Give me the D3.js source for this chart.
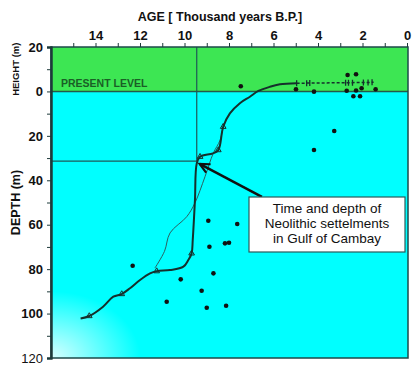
<!DOCTYPE html>
<html>
<head>
<meta charset="utf-8">
<script src="https://cdn.jsdelivr.net/npm/d3@7"></script>
<style>
  body { margin: 0; background: #fff; }
  svg text { font-family: "Liberation Sans", Arial, sans-serif; }
</style>
</head>
<body>
<svg class="chart" width="416" height="365"></svg>
<script>
// age in thousand years B.P., depth in m (negative = height above present level)
const ageTicks = [0, 2, 4, 6, 8, 10, 12, 14];
const ageMinorTicks = [1, 3, 5, 7, 9, 11, 13, 15];
const depthTicks = [-20, 0, 20, 40, 60, 80, 100, 120];
const depthMinorTicks = [-10, 10, 30, 50, 70, 90, 110];

// thick sea level curve
const mainAge = [14.67, 14.28, 13.66, 13.2, 12.82, 12.45, 12.0, 11.55, 11.25, 10.65, 10.05, 9.83, 9.68, 9.63, 9.53, 9.45, 9.30, 8.72, 8.48, 8.26, 7.96, 7.51, 7.06, 6.68, 6.16, 5.71, 4.96];
const mainDepth = [102.2, 101.1, 96.9, 92.4, 91.2, 88.6, 84.9, 81.9, 80.9, 80.4, 78.9, 75.9, 72.9, 66.9, 48.9, 32.4, 29.4, 27.9, 26.4, 15.9, 9.9, 5.3, 2.4, -0.2, -2.1, -3.2, -3.7];

// thin curve
const thinAge = [11.33, 10.9, 10.65, 9.9, 9.53, 9.08, 8.71, 8.4, 8.26];
const thinDepth = [79.5, 72.0, 63.7, 56.4, 50.2, 38.4, 27.9, 21.9, 15.9];

// dashed part near present level
const dashAge = [4.96, 4.0, 3.0, 2.0, 1.5];
const dashDepth = [-3.7, -3.8, -3.9, -4.0, -4.1];

// curve markers
const triAge = [14.28, 12.82, 11.25, 9.68, 9.30, 8.48, 8.26];
const triDepth = [101.1, 91.2, 80.9, 72.9, 29.4, 26.4, 15.9];
const crossAge = [4.96, 4.51, 4.37, 2.76, 2.63, 2.45, 1.96, 1.75, 1.57];
const crossDepth = [-3.7, -3.7, -3.8, -3.9, -3.9, -3.9, -4.0, -4.0, -4.1];

// scattered samples
const dotAge = [7.47, 4.99, 4.18, 2.67, 2.29, 1.41, 2.71, 2.41, 2.11, 2.29, 2.04, 3.27, 4.18, 8.93, 7.63, 8.88, 8.18, 8.0, 8.70, 9.23, 9.0, 8.13, 12.33, 10.17, 10.8];
const dotDepth = [-2.3, -1.0, 0.1, -7.4, -7.7, -1.0, -0.3, 2.2, 2.2, -0.4, -1.4, 17.8, 26.4, 58.2, 59.7, 69.9, 68.4, 68.1, 81.9, 89.7, 97.4, 96.5, 78.5, 84.6, 94.7];

// neolithic settlement marker and arrow
const settleAge = 9.45, settleDepth = 31.4;
const arrowFrom = [6.52, 47.5], arrowTo = [9.32, 32.6];
const boxLines = ["Time and depth of", "Neolithic settelments", "in  Gulf of Cambay"];

const font = "'Liberation Sans', Arial, sans-serif";
const svg = d3.select(".chart");
const pLeft = 51, pRight = 408, pTop = 47, pBottom = 358;

const x = d3.scaleLinear().domain([16, 0]).range([pLeft, pRight - 1]);
const y = d3.scaleLinear().domain([-20, 120]).range([pTop, pBottom]);

const defs = svg.append("defs");
const grad = defs.append("radialGradient").attr("id", "glow")
  .attr("cx", 0).attr("cy", 1).attr("r", 0.25);
grad.append("stop").attr("offset", "0%").attr("stop-color", "#d8ffff");
grad.append("stop").attr("offset", "100%").attr("stop-color", "#00ffff");

// water and land backgrounds
svg.append("rect").attr("x", pLeft).attr("y", y(0)).attr("width", pRight - pLeft).attr("height", y(120) - y(0))
  .attr("fill", "url(#glow)");
svg.append("rect").attr("x", pLeft).attr("y", y(-20)).attr("width", pRight - pLeft).attr("height", y(0) - y(-20))
  .attr("fill", "#3de653");

svg.append("text").attr("x", 61).attr("y", y(0) - 4).attr("fill", "#1a5e26").attr("font-family", font)
  .attr("font-size", 10.5).attr("font-weight", "bold").text("PRESENT LEVEL");

// present level and crosshair lines
svg.append("line").attr("x1", pLeft).attr("x2", pRight).attr("y1", y(0)).attr("y2", y(0))
  .attr("stroke", "#245a4a").attr("stroke-width", 1.5);
svg.append("line").attr("x1", x(settleAge)).attr("x2", x(settleAge)).attr("y1", y(-20)).attr("y2", y(settleDepth))
  .attr("stroke", "#1f5858").attr("stroke-width", 1.2);
svg.append("line").attr("x1", pLeft).attr("x2", x(settleAge)).attr("y1", y(settleDepth)).attr("y2", y(settleDepth))
  .attr("stroke", "#1f5858").attr("stroke-width", 1.2);

const line = d3.line().x((d) => x(d[0])).y((d) => y(d[1])).curve(d3.curveCatmullRom);

svg.append("path").datum(d3.zip(thinAge, thinDepth)).attr("d", line)
  .attr("fill", "none").attr("stroke", "#2a6060").attr("stroke-width", 1);
svg.append("path").datum(d3.zip(mainAge, mainDepth)).attr("d", line)
  .attr("fill", "none").attr("stroke", "#15302c").attr("stroke-width", 2);
svg.append("path").datum(d3.zip(dashAge, dashDepth)).attr("d", d3.line().x((d) => x(d[0])).y((d) => y(d[1])))
  .attr("fill", "none").attr("stroke", "#15302c").attr("stroke-width", 1.5).attr("stroke-dasharray", "3,2");

const tri = d3.symbol().type(d3.symbolTriangle).size(14);
svg.selectAll(".tri").data(d3.zip(triAge, triDepth)).enter().append("path")
  .attr("transform", (d) => `translate(${x(d[0])},${y(d[1])})`)
  .attr("d", tri).attr("fill", "none").attr("stroke", "#15302c").attr("stroke-width", 1);
svg.selectAll(".cross").data(d3.zip(crossAge, crossDepth)).enter().append("line")
  .attr("x1", (d) => x(d[0])).attr("x2", (d) => x(d[0]))
  .attr("y1", (d) => y(d[1]) - 3).attr("y2", (d) => y(d[1]) + 3)
  .attr("stroke", "#15302c").attr("stroke-width", 1.3);

svg.selectAll(".dot").data(d3.zip(dotAge, dotDepth)).enter().append("circle")
  .attr("cx", (d) => x(d[0])).attr("cy", (d) => y(d[1])).attr("r", 2.3).attr("fill", "#111");

// frame
svg.append("rect").attr("x", pLeft).attr("y", pTop).attr("width", pRight - pLeft).attr("height", pBottom - pTop)
  .attr("fill", "none").attr("stroke", "#1d4a4a").attr("stroke-width", 1.5);

// axes
const topAxis = svg.append("g").attr("transform", `translate(0,${pTop})`);
topAxis.call(d3.axisTop(x).tickValues(ageMinorTicks).tickSize(4).tickFormat(""));
topAxis.append("g").call(d3.axisTop(x).tickValues(ageTicks).tickSize(4).tickPadding(3).tickFormat(d3.format("d")));
topAxis.selectAll(".domain").remove();
topAxis.selectAll("line").attr("stroke", "#1d3a3a");
topAxis.selectAll("text").attr("font-size", 13).attr("font-weight", "bold").attr("fill", "#111")
  .attr("font-family", font);

const leftAxis = svg.append("g").attr("transform", `translate(${pLeft},0)`);
leftAxis.call(d3.axisLeft(y).tickValues(depthMinorTicks).tickSize(4).tickFormat(""));
leftAxis.append("g").call(d3.axisLeft(y).tickValues(depthTicks).tickSize(4).tickPadding(4).tickFormat((d) => Math.abs(d)));
leftAxis.selectAll(".domain").attr("stroke", "#1d3a3a").attr("stroke-width", 2);
leftAxis.selectAll("line").attr("stroke", "#1d3a3a");
leftAxis.selectAll("text").attr("font-size", 13).attr("font-weight", (d) => d === 120 ? "normal" : "bold")
  .attr("fill", "#111").attr("font-family", font);

// titles
svg.append("text").attr("x", 220).attr("y", 21).attr("text-anchor", "middle").attr("font-family", font)
  .attr("font-size", 12.5).attr("font-weight", "bold").attr("fill", "#111").text("AGE [ Thousand years B.P.]");
svg.append("text").attr("transform", `translate(19,${y(-10)}) rotate(-90)`).attr("text-anchor", "middle")
  .attr("font-family", font).attr("font-size", 9.5).attr("font-weight", "bold").attr("fill", "#111").text("HEIGHT (m)");
svg.append("text").attr("transform", `translate(20,${y(50)}) rotate(-90)`).attr("text-anchor", "middle")
  .attr("font-family", font).attr("font-size", 12.5).attr("font-weight", "bold").attr("fill", "#111").text("DEPTH (m)");

// annotation box and arrow
svg.append("line").attr("x1", x(arrowFrom[0])).attr("y1", y(arrowFrom[1]))
  .attr("x2", x(arrowTo[0])).attr("y2", y(arrowTo[1]))
  .attr("stroke", "#111").attr("stroke-width", 2.5);
const ang = Math.atan2(y(arrowTo[1]) - y(arrowFrom[1]), x(arrowTo[0]) - x(arrowFrom[0]));
const tipX = x(arrowTo[0]), tipY = y(arrowTo[1]);
const head = [-0.45, 0.45].map((a) => [tipX - 11 * Math.cos(ang + a), tipY - 11 * Math.sin(ang + a)]);
svg.append("path").attr("d", `M${head[0]}L${tipX},${tipY}L${head[1]}`)
  .attr("fill", "none").attr("stroke", "#111").attr("stroke-width", 2.2);

svg.append("rect").attr("x", 249).attr("y", 197).attr("width", 156).attr("height", 55)
  .attr("fill", "#fff").attr("stroke", "#2b5a5a").attr("stroke-width", 1.2);
svg.append("g").selectAll("text").data(boxLines).enter().append("text")
  .attr("x", 327).attr("y", (d, i) => 213 + i * 15).attr("text-anchor", "middle")
  .attr("font-family", font).attr("font-size", 13.5).attr("fill", "#111").text((d) => d);
</script>
</body>
</html>
